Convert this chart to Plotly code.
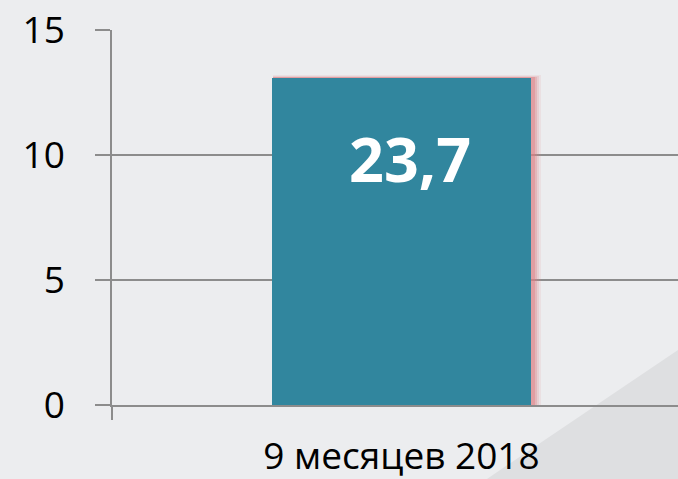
import plotly.graph_objects as go

# chart data
categories = ["9 месяцев 2018"]
values = [13.1]
labels = ["23,7"]
yticks = [0, 5, 10, 15]

W, H = 678, 479
ml, mt, mb = 112, 30, 74
xrange = [-0.5, 0.4775]
barw = 0.447
px = (xrange[1] - xrange[0]) / (W - ml)   # data units per pixel on x

fig = go.Figure()

# soft pinkish shadow behind the bar (blurred look from stacked layers)
for grow, up, alpha in [(9, 0.10, 0.12), (7, 0.07, 0.18), (5, 0.04, 0.30), (3, 0.02, 0.45)]:
    fig.add_trace(go.Bar(
        x=categories, y=[v + up + 0.2 for v in values], base=-0.2,
        width=barw + grow * px, offset=-barw / 2 + 1 * px,
        marker=dict(color="rgba(222,128,132,%s)" % alpha, line=dict(width=0)),
        hoverinfo="skip", showlegend=False))

fig.add_trace(go.Bar(
    x=categories, y=values, width=barw, offset=-barw / 2,
    marker=dict(color="#31869E", line=dict(width=0)),
    showlegend=False))

for c, v, t in zip(categories, values, labels):
    fig.add_annotation(x=c, y=v, text="<b>%s</b>" % t, showarrow=False,
                       yanchor="middle", yshift=-81, xshift=8,
                       font=dict(family="Open Sans", size=61, color="white"))

# grey diagonal panel in the lower right corner
fig.add_shape(type="path", xref="paper", yref="paper", layer="below",
              path="M 0.6625 -0.197 L 1.0 0.1467 L 1.1 0.08 L 1.1 -0.3 L 0.6 -0.3 Z",
              fillcolor="#DEDFE1", line=dict(width=0))

fig.update_layout(
    width=W, height=H,
    margin=dict(l=ml, r=0, t=mt, b=mb),
    paper_bgcolor="#ECEDEF", plot_bgcolor="rgba(0,0,0,0)",
    barmode="overlay", bargap=0,
    font=dict(family="Open Sans", size=36, color="#000000"),
)
fig.update_xaxes(type="category", range=xrange, showgrid=False,
                 showline=True, linecolor="#8C8C8C", linewidth=1.6,
                 ticks="outside", tickson="boundaries", ticklen=13,
                 tickcolor="#8C8C8C", tickwidth=1.6, ticklabelstandoff=18,
                 tickfont=dict(size=37))
fig.update_yaxes(range=[0, 15], tickvals=yticks, showgrid=True,
                 gridcolor="#8C8C8C", gridwidth=1.6, zeroline=False,
                 showline=True, linecolor="#8C8C8C", linewidth=1.6,
                 ticks="outside", ticklen=15, tickcolor="#8C8C8C", tickwidth=1.6,
                 ticklabelstandoff=23, tickfont=dict(size=37))

fig.write_html("out.html", config={"displayModeBar": False},
               post_script="document.body.style.margin='0';")
